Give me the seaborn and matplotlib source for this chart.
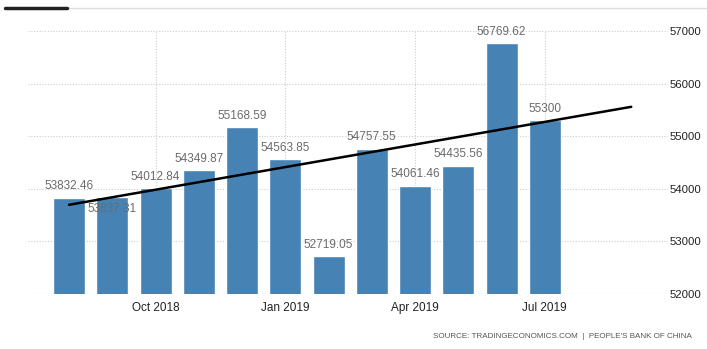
import numpy as np
import pandas as pd
import matplotlib
matplotlib.use("Agg")
import matplotlib.pyplot as plt
import seaborn as sns
from matplotlib.lines import Line2D

months = ["Aug 2018", "Sep 2018", "Oct 2018", "Nov 2018", "Dec 2018", "Jan 2019",
          "Feb 2019", "Mar 2019", "Apr 2019", "May 2019", "Jun 2019", "Jul 2019"]
values = [53832.46, 53837.31, 54012.84, 54349.87, 55168.59, 54563.85,
          52719.05, 54757.55, 54061.46, 54435.56, 56769.62, 55300.0]
labels = ["53832.46", "53837.31", "54012.84", "54349.87", "55168.59", "54563.85",
          "52719.05", "54757.55", "54061.46", "54435.56", "56769.62", "55300"]
tick_months = ["Oct 2018", "Jan 2019", "Apr 2019", "Jul 2019"]
y_ticks = [52000, 53000, 54000, 55000, 56000, 57000]
trend_extra_months = 2
source = "SOURCE: TRADINGECONOMICS.COM  |  PEOPLE'S BANK OF CHINA"

sns.set_style("white")
plt.rcParams["font.family"] = ["Liberation Sans", "DejaVu Sans"]

df = pd.DataFrame({"month": months, "value": values})

fig = plt.figure(figsize=(7.07, 3.49), dpi=100)
ax = fig.add_axes([28 / 707, 1 - 294 / 349, (668 - 28) / 707, (294 - 31) / 349])

sns.barplot(data=df, x="month", y="value", order=months, color="#4682b4",
            saturation=1, width=0.74, ax=ax, zorder=2)

ax.set_ylim(52000, 57000)
ax.set_xlim(-0.95, 13.85)

# trend line (linear fit of the series, extended)
xs = np.arange(len(values))
coef = np.polyfit(xs, values, 1)
xt = np.array([0, len(values) - 1 + trend_extra_months])
ax.plot(xt, np.polyval(coef, xt), color="black", lw=1.8, zorder=4)

# value labels
for i, (v, lab) in enumerate(zip(values, labels)):
    off = -13 if i == 1 else 4
    ax.annotate(lab, (i, v), xytext=(0, off), textcoords="offset points",
                ha="center", va="bottom", fontsize=8.5, color="#6b6b6b", zorder=5,
                annotation_clip=False)

# axes styling
for s in ax.spines.values():
    s.set_visible(False)
ax.yaxis.tick_right()
ax.set_yticks(y_ticks)
ax.set_yticklabels([str(t) for t in y_ticks], fontsize=8.2, color="#222222")
ax.tick_params(axis="y", length=0, pad=1.5)
pos = [months.index(m) for m in tick_months]
ax.set_xticks(pos)
ax.set_xticklabels(tick_months, fontsize=8.5, color="#222222")
ax.tick_params(axis="x", length=4, color="#cccccc", pad=2)
ax.set_xlabel("")
ax.set_ylabel("")
ax.grid(True, axis="both", color="#cccccc", linestyle=(0, (1, 1.5)), lw=0.8, zorder=0)
ax.set_axisbelow(True)
ax.axhline(52000, color="#cccccc", linestyle=(0, (1, 1.5)), lw=0.8, zorder=1)

# top decoration
fig.add_artist(Line2D([5 / 707, 707 / 707], [1 - 8 / 349] * 2, color="#dddddd",
                      lw=1, transform=fig.transFigure))
fig.add_artist(Line2D([5 / 707, 67 / 707], [1 - 8 / 349] * 2, color="#222222",
                      lw=2.5, transform=fig.transFigure))

fig.text(692 / 707, 1 - 337 / 349, source, ha="right", va="center",
         fontsize=5.8, color="#555555")

fig.savefig("out.png", dpi=100)
